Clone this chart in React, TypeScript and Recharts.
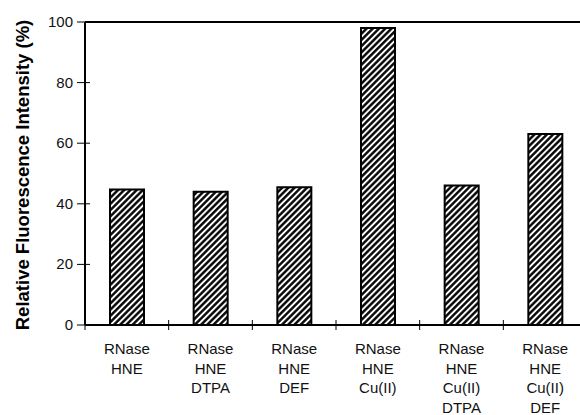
import React from 'react';
import { Bar, BarChart, ReferenceLine, XAxis, YAxis } from 'recharts';

const categories = [
  ['RNase', 'HNE'],
  ['RNase', 'HNE', 'DTPA'],
  ['RNase', 'HNE', 'DEF'],
  ['RNase', 'HNE', 'Cu(II)'],
  ['RNase', 'HNE', 'Cu(II)', 'DTPA'],
  ['RNase', 'HNE', 'Cu(II)', 'DEF'],
];
const intensity = [44.7, 44, 45.5, 98, 46, 63];
const yTicks = [0, 20, 40, 60, 80, 100];

const chartData = categories.map((lines, i) => ({
  name: lines.join(' '),
  lines,
  value: intensity[i],
}));

const CHART_W = 600;
const CHART_H = 415;
const MARGIN = { top: 22, right: 13, bottom: 0, left: 0 };
const Y_W = 85;
const X_H = 90;
const band = (CHART_W - MARGIN.left - MARGIN.right - Y_W) / categories.length;
const font = '"Liberation Sans", Arial, Helvetica, sans-serif';

const XTick = (props: any) => {
  const { x, y, index } = props;
  const lines = chartData[index]?.lines ?? [];
  return (
    <g>
      <line x1={x - band / 2} x2={x - band / 2} y1={y - 5} y2={y + 5} stroke='#000' strokeWidth={1} />
      <text x={x} textAnchor='middle' fontSize={15} fill='#111' fontFamily={font}>
        {lines.map((l: string, i: number) => (
          <tspan key={i} x={x} y={y + 29 + i * 19.5}>
            {l}
          </tspan>
        ))}
      </text>
    </g>
  );
};

const YTick = (props: any) => {
  const { x, y, payload } = props;
  return (
    <g>
      <line x1={x - 8} x2={x + 5} y1={y} y2={y} stroke='#000' strokeWidth={1} />
      <text x={x - 12} y={y + 5} textAnchor='end' fontSize={15} fill='#111' fontFamily={font}>
        {payload.value}
      </text>
    </g>
  );
};

const YTitle = () => (
  <text
    x={29}
    y={175}
    transform='rotate(-90 29 175)'
    textAnchor='middle'
    fontSize={18.5}
    fontWeight='bold'
    fill='#000'
    fontFamily={font}
  >
    Relative Fluorescence Intensity (%)
  </text>
);

export default function App() {
  return (
    <div
      style={{
        position: 'absolute',
        left: 0,
        top: 0,
        width: 580,
        height: 415,
        overflow: 'hidden',
        background: '#fff',
      }}
    >
      <BarChart width={CHART_W} height={CHART_H} data={chartData} margin={MARGIN}>
        <defs>
          <pattern id='hatch' patternUnits='userSpaceOnUse' width={4.4} height={4.4} patternTransform='rotate(45)'>
            <rect width={4.4} height={4.4} fill='#fff' />
            <line x1={2.2} y1={0} x2={2.2} y2={4.4} stroke='#000' strokeWidth={2.4} />
          </pattern>
        </defs>
        <XAxis
          dataKey='name'
          height={X_H}
          tickSize={0}
          tickMargin={0}
          tickLine={false}
          axisLine={{ stroke: '#000', strokeWidth: 2 }}
          tick={<XTick />}
          interval={0}
        />
        <YAxis
          width={Y_W}
          domain={[0, 100]}
          ticks={yTicks}
          tickSize={0}
          tickMargin={0}
          tickLine={false}
          axisLine={{ stroke: '#000', strokeWidth: 2 }}
          tick={<YTick />}
          label={{ content: () => <YTitle /> }}
        />
        <ReferenceLine y={100} stroke='#000' strokeWidth={2} />
        <Bar dataKey='value' barSize={34} fill='url(#hatch)' stroke='#000' strokeWidth={2} isAnimationActive={false} />
      </BarChart>
    </div>
  );
}
